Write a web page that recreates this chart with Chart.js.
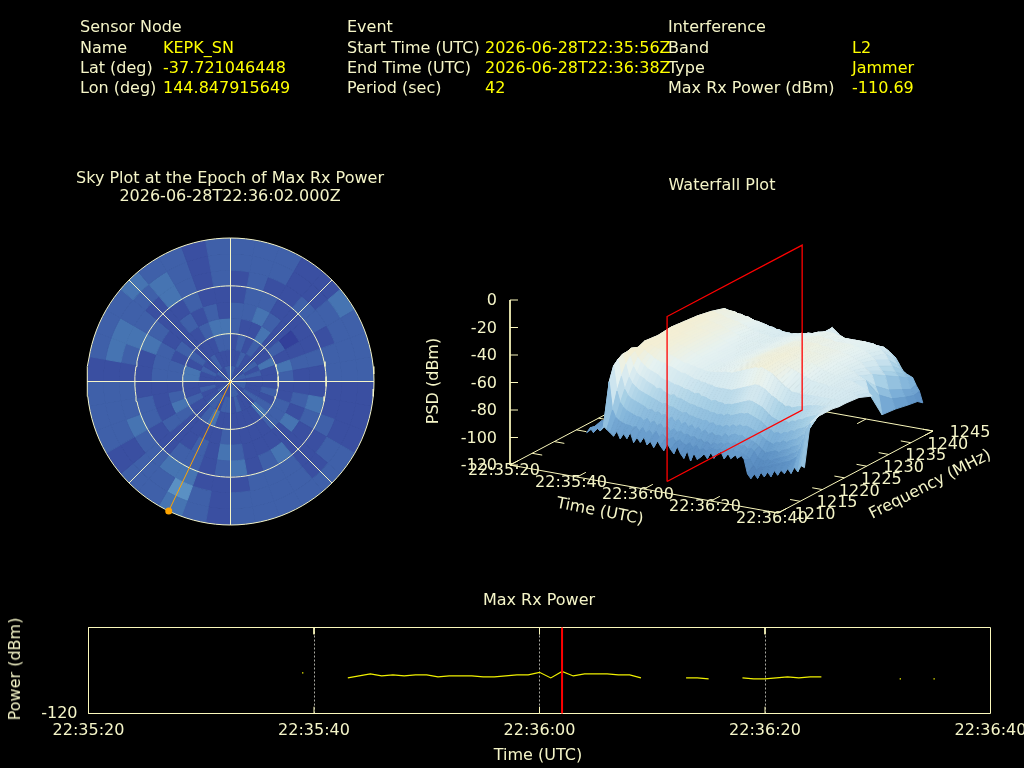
<!DOCTYPE html>
<html lang="en">
<head>
<meta charset="UTF-8">
<title>Interference Report</title>
<script src="https://cdn.jsdelivr.net/npm/chart.js"></script>
<style>
  html, body { margin: 0; background: #000; width: 1024px; height: 768px; overflow: hidden; }
  body { position: relative; font-family: "DejaVu Sans", sans-serif; }
  canvas { position: absolute; }
  .t { position: absolute; white-space: nowrap; font-size: 16px; line-height: 18px; color: #f5f5c8; }
</style>
</head>
<body>
<canvas id="skyCells" width="306" height="306" style="left:77px;top:228px"></canvas>
<canvas id="skyLines" width="306" height="306" style="left:77px;top:228px"></canvas>
<canvas id="waterfall" width="1024" height="768" style="left:0;top:0"></canvas>
<canvas id="maxPower" width="1060" height="168" style="left:0;top:600px"></canvas>
<script>
// header
const infoLabels = [
  ["Sensor Node", 80, 27], ["Name", 80, 48], ["Lat (deg)", 80, 68], ["Lon (deg)", 80, 88],
  ["Event", 347, 27], ["Start Time (UTC)", 347, 48], ["End Time (UTC)", 347, 68], ["Period (sec)", 347, 88],
  ["Interference", 668, 27], ["Band", 668, 48], ["Type", 668, 68], ["Max Rx Power (dBm)", 668, 88]
];
const infoValues = [
  ["KEPK_SN", 163, 48], ["-37.721046448", 163, 68], ["144.847915649", 163, 88],
  ["2026-06-28T22:35:56Z", 485, 48], ["2026-06-28T22:36:38Z", 485, 68], ["42", 485, 88],
  ["L2", 852, 48], ["Jammer", 852, 68], ["-110.69", 852, 88]
];

// sky plot: levels per ring (outer to inner), 10 deg sectors clockwise from north
const skyLevels = [
  [1,1,1,0,0,2,1,1,1,0,0,0,1,1,1,1,1,1,0,1,2,1,1,0,1,1,1,0,1,1,1,2,1,1,0,1],
  [1,1,1,0,0,1,1,1,1,0,0,0,1,0,1,1,1,1,0,1,3,1,1,0,1,1,1,0,2,2,1,1,2,1,0,1],
  [0,1,0,0,1,1,0,1,1,0,0,1,0,0,1,1,1,0,0,0,2,2,1,1,2,1,1,0,1,2,1,0,2,1,0,1],
  [0,1,1,0,0,0,0,1,0,0,2,1,0,0,2,1,0,2,1,0,1,1,0,0,1,1,0,0,0,2,1,0,0,1,0,0],
  [1,1,2,1,0,-1,0,1,0,0,1,0,2,0,0,0,0,1,2,0,1,0,0,1,0,0,0,1,1,1,0,0,1,0,1,0],
  [1,0,0,2,0,1,0,2,1,0,0,1,1,1,0,0,0,0,1,0,0,0,0,1,2,1,0,1,1,0,1,0,0,1,2,2],
  [0,1,0,1,0,0,2,0,0,0,1,0,1,2,0,0,0,0,0,0,2,1,0,0,1,0,0,2,2,0,1,0,0,0,1,1],
  [0,0,1,0,0,1,0,1,0,0,0,0,1,0,0,0,1,0,1,1,0,1,1,0,0,1,0,0,0,1,0,0,1,0,0,0],
  [1,1,0,0,0,0,1,1,0,1,1,1,0,0,0,1,1,1,0,0,0,0,0,1,0,0,0,0,0,0,1,0,0,0,1,1]
];
const skyRingEl = [30, 60];
const skySpokes = [0, 45, 90, 135];
const satAz = 205.5;
const satEl = 0;

// waterfall
const timeTicks = [0, 20, 40, 60, 80];
const timeTickLabels = ["22:35:20", "22:35:40", "22:36:00", "22:36:20", "22:36:40"];
const freqTicks = [1210, 1215, 1220, 1225, 1230, 1235, 1240, 1245];
const psdTicks = [0, -20, -40, -60, -80, -100, -120];
const surfaceFreqs = [1213.7,1215,1216,1217,1218,1219,1220,1221.5,1223,1226,1229,1232,1235,1238,1241,1243,1244.2];
const surfaceTimes = [18,19,20,21,22,23,24,25,26,27,28,29,30,31,32,33,34,35,36,37,38,39,40,41,42,43,44,45,46,47,48,49,50,
  51,52,53,54,55,56,57,58,59,60,61,62,63,64,65,66,67,68,69,70,71,72,73,74,75,76,77,78,79,80,81,82,83];
const psdRows = [
  [-95,-94,-93,-92,-93,-92,-93,-92,-92,-91,-92,-93,-92,-93,-92,-93,-94],
  [-91,-92,-92,-93,-92,-91,-92,-91,-91,-92,-92,-91,-93,-92,-93,-92,-93],
  [-94,-92,-91,-92,-93,-92,-93,-92,-92,-92,-91,-92,-92,-91,-92,-93,-92],
  [-90,-91,-92,-91,-92,-92,-92,-93,-92,-91,-92,-92,-91,-92,-92,-91,-93],
  [-92,-90,-89,-88,-88,-87,-85,-85,-84,-84,-84,-84,-85,-85,-86,-86,-87],
  [-88,-58,-48,-45,-43,-43,-42,-44,-42,-43,-42,-43,-44,-46,-49,-55,-65],
  [-90,-78,-66,-57,-50,-46,-44,-43,-43,-44,-43,-44,-45,-46,-50,-56,-65],
  [-92,-83,-74,-66,-59,-53,-48,-45,-44,-44,-44,-44,-45,-47,-50,-56,-64],
  [-94,-85,-77,-70,-63,-57,-51,-47,-45,-44,-45,-45,-46,-47,-50,-57,-66],
  [-90,-86,-79,-72,-65,-59,-53,-48,-46,-45,-45,-46,-47,-48,-51,-58,-65],
  [-95,-87,-80,-73,-67,-60,-55,-50,-46,-45,-46,-46,-47,-49,-51,-58,-67],
  [-91,-87,-81,-74,-68,-62,-56,-51,-47,-46,-46,-47,-48,-49,-52,-59,-66],
  [-94,-88,-82,-75,-69,-63,-57,-52,-48,-47,-47,-47,-48,-50,-52,-59,-67],
  [-89,-87,-82,-76,-70,-64,-58,-52,-49,-48,-48,-48,-49,-50,-53,-60,-66],
  [-96,-90,-84,-78,-71,-66,-60,-54,-50,-49,-49,-49,-50,-51,-54,-60,-68],
  [-92,-87,-82,-77,-72,-65,-61,-54,-51,-50,-50,-50,-51,-52,-54,-60,-67],
  [-95,-91,-85,-79,-73,-67,-61,-55,-52,-51,-51,-51,-52,-53,-55,-61,-68],
  [-90,-88,-83,-78,-74,-68,-62,-56,-53,-52,-52,-52,-53,-54,-56,-61,-67],
  [-96,-91,-86,-80,-73,-69,-63,-57,-53,-53,-53,-53,-54,-55,-57,-62,-68],
  [-93,-88,-84,-79,-75,-68,-63,-57,-54,-53,-54,-54,-54,-55,-58,-62,-69],
  [-97,-92,-87,-82,-75,-70,-64,-58,-54,-54,-54,-55,-55,-56,-58,-63,-68],
  [-91,-89,-85,-80,-76,-70,-65,-59,-55,-54,-54,-55,-55,-56,-58,-63,-69],
  [-95,-91,-88,-83,-77,-71,-65,-60,-55,-55,-55,-55,-56,-56,-59,-63,-68],
  [-98,-92,-86,-81,-78,-72,-66,-60,-56,-55,-55,-55,-56,-57,-59,-64,-69],
  [-92,-90,-88,-84,-77,-73,-67,-61,-56,-55,-55,-56,-56,-57,-59,-64,-67],
  [-96,-93,-87,-82,-79,-73,-66,-61,-56,-55,-55,-55,-56,-56,-59,-63,-68],
  [-99,-91,-89,-85,-79,-74,-68,-62,-56,-54,-54,-55,-55,-56,-58,-63,-66],
  [-93,-93,-88,-83,-80,-74,-68,-62,-55,-54,-54,-54,-55,-55,-58,-62,-65],
  [-98,-94,-90,-86,-80,-75,-69,-63,-55,-53,-53,-54,-54,-55,-57,-62,-64],
  [-101,-92,-89,-84,-81,-75,-70,-63,-54,-53,-52,-53,-53,-54,-57,-61,-63],
  [-95,-95,-91,-87,-80,-76,-69,-63,-54,-52,-52,-52,-53,-54,-56,-60,-62],
  [-102,-93,-90,-85,-82,-76,-70,-63,-54,-51,-51,-52,-52,-53,-56,-59,-60],
  [-96,-96,-92,-88,-81,-77,-70,-63,-53,-50,-50,-51,-52,-53,-55,-58,-58],
  [-100,-94,-91,-86,-83,-76,-71,-63,-52,-49,-49,-50,-51,-52,-54,-57,-56],
  [-98,-96,-93,-88,-82,-77,-70,-62,-51,-48,-48,-49,-50,-52,-54,-56,-58],
  [-95,-94,-91,-87,-83,-75,-70,-61,-50,-47,-48,-48,-50,-51,-53,-57,-60],
  [-98,-93,-92,-88,-81,-76,-69,-60,-49,-47,-47,-48,-49,-51,-53,-58,-62],
  [-93,-94,-90,-85,-82,-75,-68,-59,-48,-46,-47,-48,-49,-50,-53,-59,-64],
  [-97,-92,-91,-87,-80,-74,-67,-58,-47,-46,-47,-47,-49,-50,-53,-60,-66],
  [-93,-93,-89,-85,-81,-73,-66,-57,-47,-46,-46,-47,-49,-51,-54,-61,-68],
  [-91,-91,-90,-84,-79,-73,-65,-56,-46,-46,-46,-47,-49,-51,-54,-62,-70],
  [-96,-93,-88,-85,-80,-72,-65,-56,-47,-46,-47,-47,-49,-51,-55,-62,-68],
  [-91,-91,-89,-84,-79,-73,-66,-57,-48,-47,-47,-48,-50,-52,-55,-62,-69],
  [-95,-94,-90,-86,-80,-74,-67,-58,-49,-48,-48,-49,-50,-52,-55,-62,-68],
  [-90,-92,-89,-85,-81,-75,-68,-60,-51,-49,-49,-49,-50,-52,-55,-61,-67],
  [-94,-93,-91,-87,-82,-76,-70,-62,-53,-50,-49,-49,-51,-52,-55,-61,-68],
  [-91,-94,-90,-88,-83,-78,-72,-63,-55,-51,-50,-50,-51,-52,-55,-60,-66],
  [-94,-96,-92,-90,-85,-80,-74,-65,-57,-52,-50,-50,-51,-52,-55,-60,-66],
  [-104,-100,-96,-92,-87,-81,-75,-66,-58,-53,-51,-51,-52,-53,-56,-61,-65],
  [-107,-103,-97,-94,-88,-83,-76,-68,-60,-54,-52,-52,-53,-53,-56,-61,-66],
  [-103,-101,-98,-93,-89,-82,-76,-67,-60,-55,-53,-52,-53,-54,-56,-61,-66],
  [-106,-100,-96,-92,-87,-83,-75,-68,-60,-56,-54,-53,-54,-55,-57,-63,-68],
  [-101,-99,-97,-91,-87,-81,-76,-67,-61,-56,-55,-54,-55,-56,-59,-65,-70],
  [-104,-98,-95,-92,-85,-81,-74,-66,-60,-57,-55,-55,-56,-58,-61,-68,-74],
  [-100,-97,-94,-90,-86,-79,-74,-66,-60,-57,-56,-56,-57,-60,-65,-72,-78],
  [-103,-96,-93,-89,-84,-79,-72,-65,-60,-57,-56,-57,-60,-64,-69,-75,-80],
  [-98,-95,-92,-88,-83,-77,-72,-64,-60,-58,-57,-58,-62,-67,-73,-78,-81],
  [-101,-94,-91,-86,-82,-76,-70,-64,-60,-58,-58,-60,-64,-70,-76,-80,-82],
  [-97,-93,-89,-85,-80,-75,-69,-63,-60,-58,-58,-61,-72,-80,-85,-88,-87],
  [-99,-92,-88,-84,-78,-73,-68,-63,-60,-58,-58,-62,-78,-86,-90,-92,-91],
  [-95,-90,-86,-80,-76,-72,-67,-63,-60,-58,-59,-71,-92,-93,-95,-96,-99],
  [-98,-88,-82,-76,-72,-69,-65,-62,-60,-59,-60,null,null,null,null,null,null],
  [-93,-82,-74,-70,-67,-65,-63,-61,-60,-59,-61,null,null,null,null,null,null],
  [-96,-74,-68,-65,-63,-62,-61,-61,-60,-60,-62,null,null,null,null,null,null],
  [-91,-66,-63,-62,-61,-61,-60,-60,-60,-61,-64,null,null,null,null,null,null],
  [-92,-62,-61,-60,-60,-60,-60,-61,-61,-62,-66,null,null,null,null,null,null]
];
const markerTime = 42;

// max rx power strip, seconds after 22:35:20
const powerTimes = [23,24,25,26,27,28,29,30,31,32,33,34,35,36,37,38,39,40,41,42,43,44,45,46,47,48,49,
  50,53,54,55,56,58,59,60,61,62,63,64,65];
const powerValues = [-112.14,-111.7,-111.26,-111.7,-111.48,-111.7,-111.48,-111.48,-111.92,-111.7,-111.7,-111.7,-111.92,-111.92,
  -111.7,-111.48,-111.48,-110.9,-112.14,-110.69,-111.7,-111.26,-111.26,-111.26,-111.48,-111.48,-112.14,
  null,-112.14,-112.14,-112.36,null,-112.14,-112.36,-112.36,-112.14,-111.92,-112.14,-111.92,-111.92];
const lonePowerTimes = [19, 72, 75];
const lonePowerValues = [-111.04, -112.36, -112.36];

const paleText = "#f5f5c8";
const axisColor = "#fbf8bc";
Chart.defaults.font.family = '"DejaVu Sans", sans-serif';

function addText(str, x, y, opts = {}) {
  const el = document.createElement("div");
  el.className = "t";
  el.textContent = str;
  el.style.left = x + "px";
  el.style.top = (y - 9) + "px";
  if (opts.color) el.style.color = opts.color;
  const shift = opts.align === "center" ? "-50%" : opts.align === "right" ? "-100%" : "0";
  el.style.transform = `translateX(${shift})` + (opts.rotate ? ` rotate(${opts.rotate}deg)` : "");
  document.body.appendChild(el);
}
infoLabels.forEach(([s, x, y]) => addText(s, x, y));
infoValues.forEach(([s, x, y]) => addText(s, x, y, { color: "#ffff00" }));
addText("Sky Plot at the Epoch of Max Rx Power", 230, 178, { align: "center" });
addText("2026-06-28T22:36:02.000Z", 230, 196, { align: "center" });
addText("Waterfall Plot", 722, 185, { align: "center" });
addText("Max Rx Power", 539, 600, { align: "center" });
addText("Time (UTC)", 538, 755, { align: "center" });
addText("Power (dBm)", 15, 669, { align: "center", rotate: -90 });
addText("PSD (dBm)", 433, 381, { align: "center", rotate: -90 });
addText("Time (UTC)", 600, 511, { align: "center", rotate: 11 });
addText("Frequency (MHz)", 930, 484, { align: "center", rotate: -27 });

// ---- sky cells
const skyPadding = { left: 10, top: 10, right: 9, bottom: 9 };
const skyColors = { "-1": "#33409a", 0: "#3a4fa1", 1: "#3f60a9", 2: "#4674b2", 3: "#5a90c3" };
new Chart(document.getElementById("skyCells"), {
  type: "doughnut",
  data: {
    datasets: skyLevels.map(ring => ({
      data: ring.map(() => 1),
      backgroundColor: ring.map(v => skyColors[v]),
      borderColor: ring.map(v => skyColors[v]),
      borderWidth: 1
    }))
  },
  options: {
    responsive: false, animation: false, cutout: 0,
    layout: { padding: skyPadding },
    plugins: { legend: { display: false }, tooltip: { enabled: false } }
  }
});

// ---- sky grid
function skyPoint(az, el) {
  const a = az * Math.PI / 180;
  return { x: (90 - el) * Math.sin(a), y: (90 - el) * Math.cos(a) };
}
function skyLine(points, color, width) {
  return { data: points, showLine: true, borderColor: color, borderWidth: width, pointRadius: 0, clip: false };
}
const skyDatasets = [];
skyDatasets.push({ data: [skyPoint(satAz, satEl)], pointRadius: 3.5, backgroundColor: "#ffa500", borderWidth: 0, clip: false });
skyDatasets.push(skyLine([skyPoint(0, 90), skyPoint(satAz, satEl)], "#ffa500", 1));
[0, ...skyRingEl].forEach(el => {
  const pts = [];
  for (let az = 0; az <= 360; az += 3) pts.push(skyPoint(az, el));
  skyDatasets.push(skyLine(pts, paleText, 1));
});
skySpokes.forEach(az => skyDatasets.push(skyLine([skyPoint(az, 0), skyPoint(az + 180, 0)], paleText, 1)));
new Chart(document.getElementById("skyLines"), {
  type: "scatter",
  data: { datasets: skyDatasets },
  options: {
    responsive: false, animation: false,
    layout: { padding: skyPadding },
    scales: {
      x: { type: "linear", min: -90, max: 90, display: false },
      y: { type: "linear", min: -90, max: 90, display: false }
    },
    plugins: { legend: { display: false }, tooltip: { enabled: false } }
  }
});

// ---- waterfall, projected to page pixels
function project(t, f, z) {
  return {
    x: 510 + t / 80 * 268 + (f - 1210) / 35 * 155,
    y: 465 + t / 80 * 48 - (f - 1210) / 35 * 82 - (z + 120) * 165 / 120
  };
}
const psdStops = [
  [-108, [79, 127, 181]], [-95, [95, 147, 198]], [-85, [125, 176, 216]], [-72, [166, 207, 229]],
  [-62, [207, 230, 239]], [-53, [230, 242, 241]], [-44, [244, 239, 212]]
];
function psdColor(z) {
  if (z <= psdStops[0][0]) return `rgb(${psdStops[0][1]})`;
  for (let i = 1; i < psdStops.length; i++) {
    if (z <= psdStops[i][0]) {
      const [z0, c0] = psdStops[i - 1], [z1, c1] = psdStops[i];
      const k = (z - z0) / (z1 - z0);
      return `rgb(${c0.map((c, j) => Math.round(c + (c1[j] - c) * k))})`;
    }
  }
  return `rgb(${psdStops[psdStops.length - 1][1]})`;
}
function wfLine(points, color, width = 1) {
  return { data: points, showLine: true, borderColor: color, borderWidth: width, pointRadius: 0, tension: 0 };
}
const fLo = 1210, fHi = 1245, tHi = 80;
const behind = [];
// floor box and axes
behind.push(wfLine([project(0, fLo, -120), project(tHi, fLo, -120), project(tHi, fHi, -120), project(0, fHi, -120), project(0, fLo, -120)], axisColor));
behind.push(wfLine([project(0, fLo, 0), project(0, fLo, -120)], axisColor));
psdTicks.forEach(z => {
  const p = project(0, fLo, z);
  behind.push(wfLine([p, { x: p.x + 8, y: p.y }], axisColor));
  addText(String(z), p.x - 13, p.y, { align: "right" });
});
timeTicks.forEach((t, i) => {
  const a = project(t, fLo, -120), b = project(t, fHi, -120);
  behind.push(wfLine([a, project(t, fLo + 2, -120)], axisColor));
  behind.push(wfLine([b, project(t, fHi - 2, -120)], axisColor));
  addText(timeTickLabels[i], a.x - 6, a.y + 5, { align: "center" });
});
freqTicks.forEach(f => {
  const a = project(tHi, f, -120), b = project(0, f, -120);
  behind.push(wfLine([a, project(tHi - 3, f, -120)], axisColor));
  behind.push(wfLine([b, project(3, f, -120)], axisColor));
  addText(String(f), a.x + 37, a.y + 1, { align: "center" });
});
// surface cells, far to near; empty grid nodes leave a hole
const cells = [];
for (let r = 0; r < surfaceTimes.length - 1; r++) {
  for (let c = surfaceFreqs.length - 2; c >= 0; c--) {
    const t0 = surfaceTimes[r], t1 = surfaceTimes[r + 1], f0 = surfaceFreqs[c], f1 = surfaceFreqs[c + 1];
    const z00 = psdRows[r][c], z01 = psdRows[r][c + 1], z10 = psdRows[r + 1][c], z11 = psdRows[r + 1][c + 1];
    if (z00 === null || z01 === null || z10 === null || z11 === null) continue;
    const col = psdColor((z00 + z01 + z10 + z11) / 4);
    const p = project(t0, f0, z00);
    cells.push({
      data: [p, project(t1, f0, z10), project(t1, f1, z11), project(t0, f1, z01), p],
      showLine: true, borderColor: col, backgroundColor: col, borderWidth: 1, pointRadius: 0, tension: 0, fill: "shape"
    });
  }
}
const redPlane = wfLine([
  project(markerTime, surfaceFreqs[0], -120), project(markerTime, 1244.2, -120),
  project(markerTime, 1244.2, 0), project(markerTime, surfaceFreqs[0], 0), project(markerTime, surfaceFreqs[0], -120)
], "#ff0000", 1.3);
// the first dataset in the list ends up on top
new Chart(document.getElementById("waterfall"), {
  type: "scatter",
  data: { datasets: [redPlane, ...cells.reverse(), ...behind] },
  options: {
    responsive: false, animation: false,
    scales: {
      x: { type: "linear", min: 0, max: 1024, display: false },
      y: { type: "linear", min: 0, max: 768, reverse: true, display: false }
    },
    plugins: { legend: { display: false }, tooltip: { enabled: false } }
  }
});

// ---- max rx power strip
function stripLine(x, y0, y1, color, width = 1) {
  return { type: "line", data: [{ x, y: y0 }, { x, y: y1 }], borderColor: color, borderWidth: width, pointRadius: 0, clip: false };
}
const powerTop = -101, powerBottom = -120;
const stripStubs = [];
[20, 40, 60].forEach(t => {
  stripStubs.push(stripLine(t, powerBottom, powerBottom + 1.5, axisColor));
  stripStubs.push(stripLine(t, powerTop, powerTop - 1.5, axisColor));
});
new Chart(document.getElementById("maxPower"), {
  type: "scatter",
  data: {
    datasets: [
      { data: lonePowerTimes.map((x, i) => ({ x, y: lonePowerValues[i] })), pointStyle: "rect", pointRadius: 0.9, backgroundColor: "#ffff00", borderWidth: 0 },
      stripLine(markerTime, powerBottom, powerTop, "#ff0000", 2),
      { type: "line", data: powerTimes.map((x, i) => ({ x, y: powerValues[i] })), borderColor: "#f0f000", borderWidth: 1.2, pointRadius: 0, spanGaps: false },
      ...stripStubs,
      { type: "line", data: [{ x: 0, y: powerBottom }, { x: 80, y: powerBottom }, { x: 80, y: powerTop }, { x: 0, y: powerTop }, { x: 0, y: powerBottom }],
        borderColor: axisColor, borderWidth: 1, pointRadius: 0, clip: false }
    ]
  },
  options: {
    responsive: false, animation: false,
    layout: { padding: { left: 0, top: 27.5, right: 69.5, bottom: 0 } },
    scales: {
      x: {
        type: "linear", min: 0, max: 80,
        afterFit: s => { s.height = 54.5; },
        afterBuildTicks: s => { s.ticks = timeTicks.map(value => ({ value })); },
        grid: { color: c => (c.tick && (c.tick.value === 0 || c.tick.value === 80)) ? "rgba(0,0,0,0)" : "#a8a8a0", drawTicks: false },
        border: { display: false, dash: [2, 2] },
        ticks: { color: paleText, font: { size: 16 }, padding: 8, maxRotation: 0, autoSkip: false,
          callback: v => timeTickLabels[timeTicks.indexOf(v)] }
      },
      y: {
        type: "linear", min: powerBottom, max: powerTop,
        afterFit: s => { s.width = 88.5; },
        afterBuildTicks: s => { s.ticks = [{ value: powerBottom }]; },
        grid: { display: false },
        border: { display: false },
        ticks: { color: paleText, font: { size: 16 }, padding: 3, callback: v => String(v) }
      }
    },
    plugins: { legend: { display: false }, tooltip: { enabled: false } }
  }
});
</script>
</body>
</html>
